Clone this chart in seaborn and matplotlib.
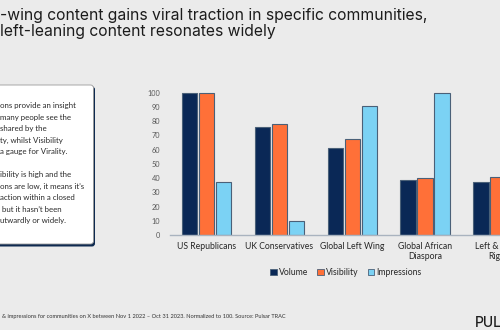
import matplotlib
matplotlib.use("Agg")
import matplotlib.pyplot as plt
import seaborn as sns
import pandas as pd
from matplotlib.patches import FancyBboxPatch, Patch

# ---- data ----
categories = ["US Republicans", "UK Conservatives", "Global Left Wing",
              "Global African\nDiaspora", "Left & Right\nRight"]
series = ["Volume", "Visibility", "Impressions"]
volume = [100, 76, 61, 39, 37]
visibility = [100, 78, 67.5, 40, 41]
impressions = [37, 10, 91, 100, 55]
yticks = list(range(0, 101, 10))

title_lines = ["-wing content gains viral traction in specific communities,",
               "left-leaning content resonates widely"]
box_lines = ["ons provide an insight",
             "many people see the",
             "shared by the",
             "ty, whilst Visibility",
             "a gauge for Virality.",
             "",
             "ibility is high and the",
             "ons are low, it means it\u2019s",
             "action within a closed",
             " but it hasn\u2019t been",
             "utwardly or widely."]
footer = ("& impressions for communities on X between Nov 1 2022 \u2013 Oct 31 2023. "
          "Normalized to 100. Source: Pulsar TRAC")
logo = "PULSAR"

colors = ["#0A2856", "#FF7038", "#7BD2F4"]
bg = "#EBEBEB"
W, H = 500, 330

sns.set_theme(style="white")
plt.rcParams['font.family'] = ['Lato', 'DejaVu Sans']

fig = plt.figure(figsize=(W / 100, H / 100), dpi=100, facecolor=bg)

# overlay axes in pixel coordinates for slide decorations
ov = fig.add_axes([0, 0, 1, 1], zorder=0)
ov.set_xlim(0, W)
ov.set_ylim(H, 0)
ov.axis('off')
ov.patch.set_visible(False)

# title
for i, line in enumerate(title_lines):
    ov.text(-0.5, 15.5 + i * 16, line, fontsize=11.3, family=['Inter', 'DejaVu Sans'],
            color="#1C1C1C", va='center', ha='left')

# text box with navy shadow
shadow = FancyBboxPatch((-20, 86.5), 115, 160, boxstyle="round,pad=0,rounding_size=3",
                        facecolor="#0E2A50", edgecolor="none")
box = FancyBboxPatch((-20, 85), 113.5, 159, boxstyle="round,pad=0,rounding_size=3",
                     facecolor="white", edgecolor="#9A9A9A", linewidth=0.6)
ov.add_patch(shadow)
ov.add_patch(box)
for i, line in enumerate(box_lines):
    ov.text(0, 105.5 + i * 11.55, line, fontsize=5.7, color="#2A2A2A",
            va='center', ha='left')

# footer and logo
ov.text(2, 316.5, footer, fontsize=4.05, color="#333333", va='center', ha='left')
ov.text(475, 327, logo, fontsize=10, family=['Inter', 'DejaVu Sans'], color="#1E1E1E",
        va='baseline', ha='left', fontweight='medium')

# ---- chart ----
pitch = 72.9
ax = fig.add_axes([170 / W, (H - 235) / H, 5 * pitch / W, 105 * 1.423 / H], zorder=1)
ax.set_facecolor('none')
df = pd.DataFrame({
    "Community": categories * 3,
    "Metric": [s for s in series for _ in categories],
    "Value": volume + visibility + impressions,
})
sns.barplot(data=df, x="Community", y="Value", hue="Metric", hue_order=series,
            order=categories, palette=colors, saturation=1, width=0.7, gap=0.09,
            edgecolor="#4A6078", linewidth=0.8, ax=ax, legend=False)
ax.set_xlim(-0.5, 4.5)
ax.set_ylim(0, 105)
ax.set_yticks(yticks)
ax.set_yticklabels([str(v) for v in yticks])
ax.set_xlabel("")
ax.set_ylabel("")
for s in ["top", "right", "left"]:
    ax.spines[s].set_visible(False)
ax.spines["bottom"].set_color("#A9B3BF")
ax.spines["bottom"].set_linewidth(1.0)
ax.tick_params(axis='y', length=0, pad=7, labelsize=5.3, labelcolor="#595959")
ax.tick_params(axis='x', length=0, pad=5, labelsize=6.2, labelcolor="#262626")
ax.grid(False)

handles = [Patch(facecolor=c, edgecolor="#4A6078", linewidth=0.6, label=s)
           for c, s in zip(colors, series)]
fig.legend(handles=handles, loc='center', bbox_to_anchor=(346 / W, 1 - 272.7 / H),
           ncol=3, frameon=False, fontsize=6.2, handlelength=0.75, handleheight=0.75,
           handletextpad=0.3, columnspacing=1.0, labelcolor="#262626")

fig.savefig("out.png", dpi=100, facecolor=bg)
